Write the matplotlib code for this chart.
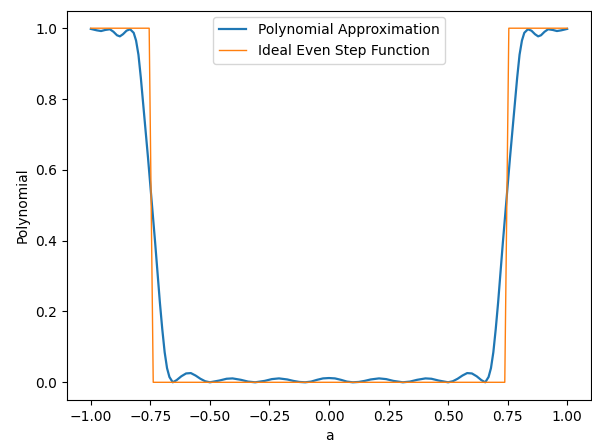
import matplotlib
matplotlib.use("Agg")
import matplotlib.pyplot as plt

# Polynomial approximation
poly_x = [-1.0, -0.975, -0.957, -0.94, -0.92, -0.905, -0.89, -0.878, -0.865, -0.85, -0.835,
          -0.82, -0.81, -0.80, -0.79, -0.78, -0.77, -0.76, -0.75, -0.74, -0.73, -0.72, -0.71,
          -0.70, -0.69, -0.68, -0.67, -0.656, -0.64, -0.62, -0.60, -0.58, -0.56, -0.54, -0.52,
          -0.50, -0.46, -0.43, -0.405, -0.37, -0.34, -0.31, -0.27, -0.24, -0.21, -0.175, -0.15,
          -0.125, -0.1, -0.075, -0.05, -0.025, 0.0,
          0.025, 0.05, 0.075, 0.1, 0.125, 0.15, 0.175, 0.21, 0.24, 0.27, 0.31, 0.34, 0.37,
          0.405, 0.43, 0.46, 0.50, 0.52, 0.54, 0.56, 0.58, 0.60, 0.62, 0.64, 0.656, 0.67,
          0.68, 0.69, 0.70, 0.71, 0.72, 0.73, 0.74, 0.75, 0.76, 0.77, 0.78, 0.79, 0.80, 0.81,
          0.82, 0.835, 0.85, 0.865, 0.878, 0.89, 0.905, 0.92, 0.94, 0.957, 0.975, 1.0]
poly_y = [0.998, 0.994, 0.992, 0.995, 0.997, 0.990, 0.980, 0.977, 0.983, 0.993, 0.997,
          0.987, 0.965, 0.925, 0.86, 0.785, 0.71, 0.635, 0.555, 0.475, 0.395, 0.31, 0.225,
          0.15, 0.085, 0.04, 0.015, 0.0, 0.006, 0.017, 0.025, 0.026, 0.019, 0.010, 0.003,
          0.0, 0.005, 0.010, 0.011, 0.007, 0.002, 0.0, 0.004, 0.009, 0.011, 0.008, 0.004,
          0.001, 0.0, 0.002, 0.007, 0.011, 0.012,
          0.011, 0.007, 0.002, 0.0, 0.001, 0.004, 0.008, 0.011, 0.009, 0.004, 0.0, 0.002, 0.007,
          0.011, 0.010, 0.005, 0.0, 0.003, 0.010, 0.019, 0.026, 0.025, 0.017, 0.006, 0.0, 0.015,
          0.04, 0.085, 0.15, 0.225, 0.31, 0.395, 0.475, 0.555, 0.635, 0.71, 0.785, 0.86, 0.925, 0.965,
          0.987, 0.997, 0.993, 0.983, 0.977, 0.980, 0.990, 0.997, 0.995, 0.992, 0.994, 0.998]

# Ideal even step function
step_x = [-1.0, -0.755, -0.738, 0.738, 0.755, 1.0]
step_y = [1.0, 1.0, 0.0, 0.0, 1.0, 1.0]

fig = plt.figure(figsize=(5.92, 4.42), dpi=100)
ax = fig.add_axes([67 / 592, 42 / 442, 524 / 592, 389.5 / 442])
ax.plot(poly_x, poly_y, color="#1f77b4", lw=1.6, label="Polynomial Approximation")
ax.plot(step_x, step_y, color="#ff7f0e", lw=1.0, label="Ideal Even Step Function")
ax.set_xlabel("a")
ax.set_ylabel("Polynomial")
ax.set_xticks([-1.0, -0.75, -0.5, -0.25, 0.0, 0.25, 0.5, 0.75, 1.0])
ax.legend(loc="upper center")
fig.savefig("out.png", dpi=100)
